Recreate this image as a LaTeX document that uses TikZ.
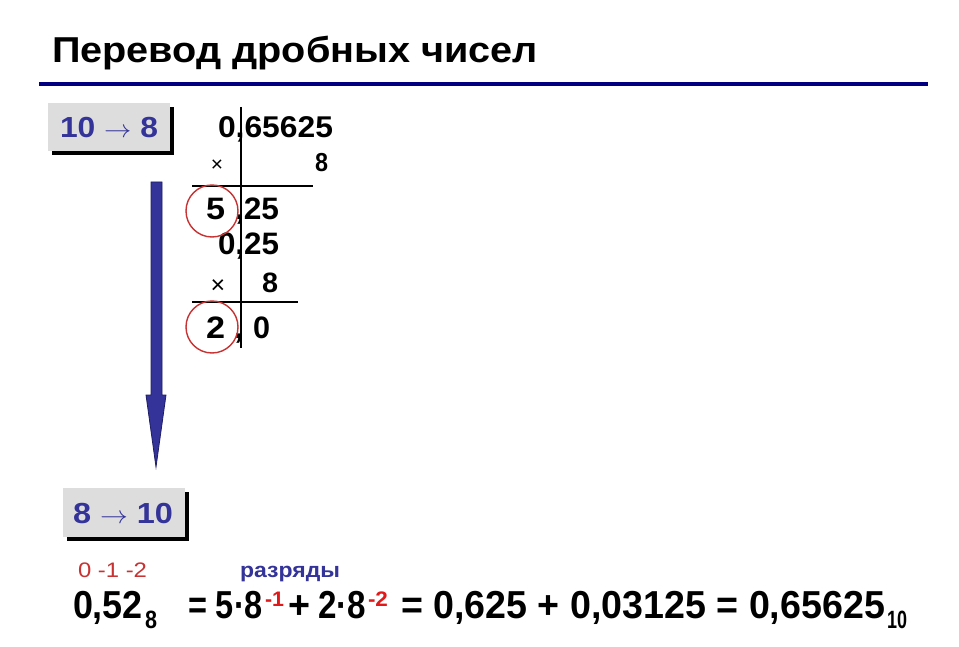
\documentclass[tikz,border=0pt]{standalone}
\usepackage{fontspec}
\setmainfont{Liberation Sans}
\usepackage{graphicx}
\usetikzlibrary{shadows}
\definecolor{navyline}{RGB}{0,0,128}
\definecolor{txtblue}{RGB}{51,51,153}
\definecolor{boxgray}{RGB}{221,221,221}
\definecolor{circred}{RGB}{200,50,50}
\definecolor{supred}{RGB}{225,25,25}
\definecolor{arrowedge}{RGB}{30,30,100}
\newcommand\fw[2]{\resizebox{#1pt}{\height}{#2}}
\newcommand\fs[1]{\fontsize{#1}{#1}\selectfont}
\begin{document}
\begin{tikzpicture}[x=1pt,y=-1pt,
  lbl/.style={anchor=base west,inner sep=0pt,outer sep=0pt},
  graybox/.style={fill=boxgray,minimum width=122pt,minimum height=48pt,inner sep=0pt,
    drop shadow={shadow xshift=4pt,shadow yshift=-4pt,fill=black,opacity=1}},
  rule/.style={line width=1.4pt,black},
  ring/.style={draw=circred,line width=1.4pt,circle,minimum size=52pt,inner sep=0pt}]
\useasboundingbox[fill=white] (0,0) rectangle (959,647);
% title
\node[lbl] (title) at (52,63) {\fw{486}{\fs{36}\bfseries Перевод дробных чисел}};
\coordinate (rl) at (39,84);
\coordinate (rr) at (928,84);
\draw[navyline,line width=4.5pt] (rl) -- (rr);
% boxes
\node[graybox] (b1) at (109,127) {};
\node[lbl,txtblue] (b1t) at (60,138) {\fw{98}{\fs{29}\bfseries 10 $\rightarrow$ 8}};
\node[graybox,minimum height=49pt] (b2) at (124,512.5) {};
\node[lbl,txtblue] (b2t) at (73,523) {\fw{100}{\fs{29}\bfseries 8 $\rightarrow$ 10}};
% big arrow
\coordinate (a1) at (151,182);
\coordinate (a2) at (162,182);
\coordinate (a3) at (162,395);
\coordinate (a4) at (166,395);
\coordinate (tip) at (156,467);
\coordinate (a6) at (146,395);
\coordinate (a7) at (151,395);
\filldraw[fill=txtblue,draw=arrowedge,line width=0.8pt,line join=miter]
  (a1) -- (a2) -- (a3) -- (a4) -- (tip) -- (a6) -- (a7) -- cycle;
% division
\coordinate (vt) at (241,107);
\coordinate (vb) at (241,348);
\draw[rule] (vt) -- (vb);
\coordinate (h1l) at (192,186);
\coordinate (h1r) at (313,186);
\draw[rule] (h1l) -- (h1r);
\coordinate (h2l) at (192,302);
\coordinate (h2r) at (298,302);
\draw[rule] (h2l) -- (h2r);
\node[lbl] (n1) at (218,138) {\fw{115}{\fs{30}\bfseries 0,65625}};
\node[inner sep=0pt] (x1) at (217,166) {\fs{21}×};
\node[lbl] (m1) at (315,172) {\fw{13}{\fs{26}\bfseries 8}};
\node[lbl] (d1) at (206,220) {\fw{19}{\fs{31}\bfseries 5}};
\node[lbl] (r1) at (235,220) {\fw{44}{\fs{31}\bfseries ,25}};
\node[lbl] (n2) at (218,255) {\fw{61}{\fs{31}\bfseries 0,25}};
\node[inner sep=0pt] (x2) at (218,287) {\fs{25}×};
\node[lbl] (m2) at (262,293) {\fw{16}{\fs{28}\bfseries 8}};
\node[lbl] (d2) at (206,338) {\fw{19}{\fs{31}\bfseries 2}};
\node[lbl] (c2) at (234,338) {\fs{31}\bfseries ,};
\node[lbl] (z2) at (253,338) {\fw{17}{\fs{31}\bfseries 0}};
\node[ring] (ring1) at (212,211) {};
\node[ring] (ring2) at (212,327) {};
% bottom
\node[lbl,color=circred] (ranks) at (78,577) {\fw{69}{\fs{21}0 -1 -2}};
\node[lbl,txtblue] (razr) at (240,577) {\fw{100}{\fs{21}\bfseries разряды}};
\node[lbl] (e1) at (73,618) {\fw{70}{\fs{39}\bfseries 0,52}};
\node[lbl] (e1s) at (145,628) {\fw{12}{\fs{25}\bfseries 8}};
\node[lbl] (e2) at (188,618) {\fw{75}{\fs{39}\bfseries = 5·8}};
\node[lbl,color=supred] (e2s) at (265,606) {\fw{19}{\fs{21}\bfseries -1}};
\node[lbl] (e3) at (288,618) {\fw{22}{\fs{39}\bfseries +}};
\node[lbl] (e4) at (318,618) {\fw{48}{\fs{39}\bfseries 2·8}};
\node[lbl,color=supred] (e4s) at (368,606) {\fw{20}{\fs{21}\bfseries -2}};
\node[lbl] (e5) at (401,618) {\fw{484}{\fs{39}\bfseries = 0,625 + 0,03125 = 0,65625}};
\node[lbl] (e5s) at (887,628) {\fw{20}{\fs{25}\bfseries 10}};
\end{tikzpicture}
\end{document}
